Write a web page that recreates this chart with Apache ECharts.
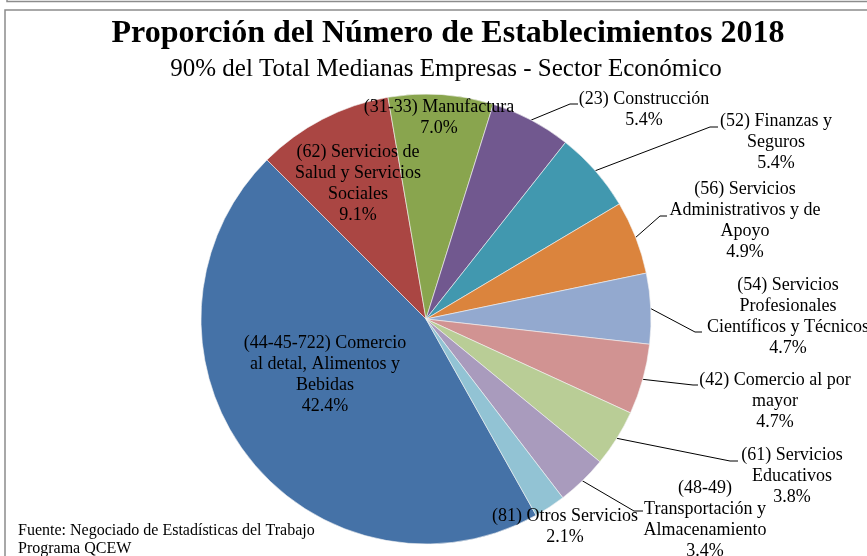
<!DOCTYPE html>
<html>
<head>
<meta charset="utf-8">
<script src="https://cdn.jsdelivr.net/npm/echarts@6/dist/echarts.min.js"></script>
<style>
  html, body { margin: 0; padding: 0; background: #fff; }
  #main { width: 867px; height: 556px; }
</style>
</head>
<body>
<div id="main"></div>
<script>
// sectores, en el orden de la gráfica (sentido horario)
var sectores = [
	'(44-45-722) Comercio\nal detal, Alimentos y\nBebidas',
	'(62) Servicios de\nSalud y Servicios\nSociales',
	'(31-33) Manufactura',
	'(23) Construcción',
	'(52) Finanzas y\nSeguros',
	'(56) Servicios\nAdministrativos y de\nApoyo',
	'(54) Servicios\nProfesionales\nCientíficos y Técnicos',
	'(42) Comercio al por\nmayor',
	'(61) Servicios\nEducativos',
	'(48-49)\nTransportación y\nAlmacenamiento',
	'(81) Otros Servicios'
];
// proporción (%)
var proporcion = [42.4, 9.1, 7.0, 5.4, 5.4, 4.9, 4.7, 4.7, 3.8, 3.4, 2.1];

var colores = ['#4572A7', '#AA4643', '#89A54E', '#71588F', '#4198AF', '#DB843D',
	'#93A9CF', '#D19392', '#B9CD96', '#A99BBD', '#92C3D4'];

// posición de las etiquetas (centro del bloque de texto)
var posEtiqueta = [
	[325, 375], [358, 184], [439, 118], [644, 110], [776, 142], [745, 221],
	[788, 317], [775, 401], [792, 476], [705, 520], [565, 527]
];
// codo y fin de la línea guía (null = sin línea)
var guia = [
	null, null, null,
	[[570, 104], [578, 104]],
	[[710, 127], [718, 127]],
	[[660, 216], [667, 216]],
	[[695, 332], [702, 332]],
	[[693, 385], [698, 385]],
	[[730, 461], [738, 461]],
	[[634, 511], [643, 511]],
	null
];

var fuente = 'Liberation Serif, Times New Roman, serif';

var datos = sectores.map(function(nombre, i) {
	return {
		name: nombre,
		value: proporcion[i],
		itemStyle: { color: colores[i] },
		labelLine: { show: guia[i] != null }
	};
});

var myChart = echarts.init(document.getElementById('main'));

var option = {
	animation: false,
	title: [{
		text: 'Proporción del Número de Establecimientos 2018',
		left: 448,
		top: 18,
		textAlign: 'center',
		padding: 0,
		textStyle: { fontFamily: fuente, fontWeight: 'bold', fontSize: 32, color: '#000' }
	}, {
		text: '90% del Total Medianas Empresas - Sector Económico',
		left: 446,
		top: 57,
		textAlign: 'center',
		padding: 0,
		textStyle: { fontFamily: fuente, fontWeight: 'normal', fontSize: 25, color: '#000' }
	}, {
		text: 'Fuente: Negociado de Estadísticas del Trabajo\nPrograma QCEW',
		left: 18,
		top: 522,
		padding: 0,
		textStyle: { fontFamily: fuente, fontWeight: 'normal', fontSize: 16, lineHeight: 18, color: '#000' }
	}],
	graphic: [{
		type: 'rect',
		shape: { x: 5, y: 10, width: 900, height: 600 },
		style: { fill: null, stroke: '#8c8c8c', lineWidth: 1.5 },
		z: -1
	}, {
		type: 'polyline',
		shape: { points: [[7, 0], [7, 1.5], [867, 1.5]] },
		style: { fill: null, stroke: '#8c8c8c', lineWidth: 1.5 },
		z: -1
	}],
	series: [{
		type: 'pie',
		center: [426, 319],
		radius: 225,
		startAngle: -60.7,
		clockwise: true,
		avoidLabelOverlap: false,
		itemStyle: { borderColor: '#f4f4f4', borderWidth: 0.6 },
		label: {
			position: 'outside',
			fontFamily: fuente,
			fontSize: 18,
			lineHeight: 21,
			color: '#000',
			align: 'center',
			bleedMargin: 0,
			formatter: function(p) {
				return p.name + '\n' + p.value.toFixed(1) + '%';
			}
		},
		labelLine: {
			length: 2,
			length2: 2,
			lineStyle: { color: '#000', width: 1 }
		},
		labelLayout: function(params) {
			var i = params.dataIndex;
			var res = {
				x: posEtiqueta[i][0],
				y: posEtiqueta[i][1],
				align: 'center',
				verticalAlign: 'middle'
			};
			if (guia[i] && params.labelLinePoints) {
				res.labelLinePoints = [params.labelLinePoints[0], guia[i][0], guia[i][1]];
			}
			return res;
		},
		emphasis: { disabled: true },
		data: datos
	}]
};

myChart.setOption(option);
</script>
</body>
</html>
